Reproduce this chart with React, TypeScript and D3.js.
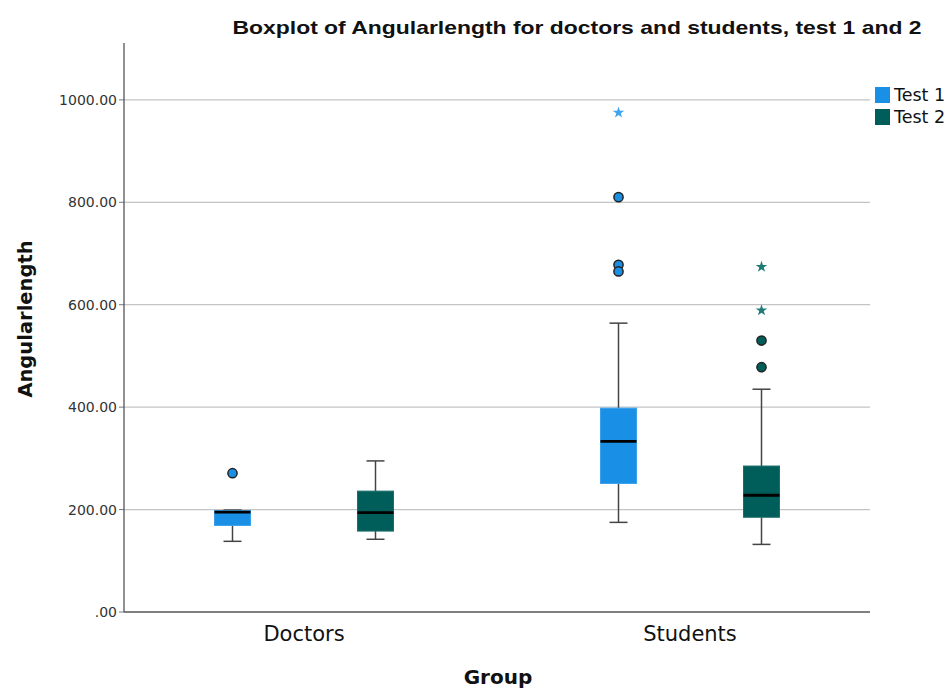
import React from "react";
import * as d3 from "d3";

const categories = ["Doctors", "Students"];
const tests = ["Test 1", "Test 2"];
const boxCategory = ["Doctors", "Doctors", "Students", "Students"];
const boxTest = ["Test 1", "Test 2", "Test 1", "Test 2"];
const whiskerLow = [138, 142, 175, 132];
const q1 = [169, 158, 251, 185];
const median = [195, 194, 333, 228];
const q3 = [198, 236, 398, 285];
const whiskerHigh = [199, 295, 564, 435];
const circleOutliers = [[271], [], [810, 678, 665], [530, 478]];
const starOutliers = [[], [], [975], [674, 589]];
const yTicks = [0, 200, 400, 600, 800, 1000];
const colors = ["#1990e6", "#005e5a"];
const strokeColors = ["#3aa0ea", "#1d6e6a"];
const starColors = ["#3ea4ee", "#1f7a76"];

export default function App() {
  const W = 952, H = 689;
  const left = 124, right = 870, top = 43, bottom = 612;
  const y = d3.scaleLinear().domain([0, 1111]).range([bottom, top]);
  const x = d3.scalePoint<string>().domain(categories).range([304, 690]);
  const sub = d3.scaleBand<string>().domain(tests).range([-143, 143]).padding(0);
  const boxW = 36;
  const capW = 18;
  const star = d3.symbol().type(d3.symbolStar).size(42)() as string;
  const fmt = (v: number) => (v === 0 ? ".00" : v.toFixed(2));

  return (
    <svg width={W} height={H} style={{ position: "absolute", left: 0, top: 0, background: "#fff" }}>
      <rect width={W} height={H} fill="#fff" />
      <text x={577} y={34} textAnchor="middle" fontFamily="Liberation Sans, Arial, sans-serif" fontWeight="bold" fontSize={19} textLength={689} lengthAdjust="spacingAndGlyphs" fill="#111">
        Boxplot of Angularlength for doctors and students, test 1 and 2
      </text>
      {yTicks.filter(t => t > 0).map(t => (
        <line key={"g" + t} x1={left} x2={right} y1={y(t)} y2={y(t)} stroke="#c4c4c4" strokeWidth={1.3} />
      ))}
      {yTicks.map(t => (
        <g key={"t" + t}>
          <line x1={left - 5} x2={left} y1={y(t)} y2={y(t)} stroke="#777" strokeWidth={1} />
          <text x={117} y={y(t)} dy="0.36em" textAnchor="end" fontFamily="DejaVu Sans, sans-serif" fontSize={14} fill="#333">{fmt(t)}</text>
        </g>
      ))}
      <line x1={left} x2={left} y1={top} y2={bottom} stroke="#555" strokeWidth={1.3} />
      <line x1={left} x2={right} y1={bottom} y2={bottom} stroke="#555" strokeWidth={1.3} />
      {median.map((m, i) => {
        const cx = (x(boxCategory[i]) as number) + (sub(boxTest[i]) as number) + sub.bandwidth() / 2;
        const ti = tests.indexOf(boxTest[i]);
        return (
          <g key={"b" + i}>
            <line x1={cx} x2={cx} y1={y(whiskerLow[i])} y2={y(q1[i])} stroke="#444" strokeWidth={1.5} />
            <line x1={cx} x2={cx} y1={y(whiskerHigh[i])} y2={y(q3[i])} stroke="#444" strokeWidth={1.5} />
            <line x1={cx - capW / 2} x2={cx + capW / 2} y1={y(whiskerLow[i])} y2={y(whiskerLow[i])} stroke="#444" strokeWidth={1.5} />
            <line x1={cx - capW / 2} x2={cx + capW / 2} y1={y(whiskerHigh[i])} y2={y(whiskerHigh[i])} stroke="#444" strokeWidth={1.5} />
            <rect x={cx - boxW / 2} y={y(q3[i])} width={boxW} height={y(q1[i]) - y(q3[i])} fill={colors[ti]} stroke={strokeColors[ti]} strokeWidth={1} />
            <line x1={cx - boxW / 2} x2={cx + boxW / 2} y1={y(m)} y2={y(m)} stroke="#000" strokeWidth={2.8} />
            {circleOutliers[i].map((v, k) => (
              <circle key={"c" + k} cx={cx} cy={y(v)} r={4.6} fill={colors[ti]} stroke="#222" strokeWidth={1.5} />
            ))}
            {starOutliers[i].map((v, k) => (
              <path key={"s" + k} d={star} transform={`translate(${cx},${y(v)})`} fill={starColors[ti]} />
            ))}
          </g>
        );
      })}
      {categories.map(c => (
        <text key={c} x={x(c)} y={641} textAnchor="middle" fontFamily="DejaVu Sans, sans-serif" fontSize={21} fill="#111">{c}</text>
      ))}
      <text x={498} y={684} textAnchor="middle" fontFamily="DejaVu Sans, sans-serif" fontWeight="bold" fontSize={20} fill="#111">Group</text>
      <text transform="translate(32,319) rotate(-90)" textAnchor="middle" fontFamily="DejaVu Sans, sans-serif" fontWeight="bold" fontSize={19.5} fill="#111">Angularlength</text>
      {tests.map((t, i) => (
        <g key={t}>
          <rect x={875} y={87 + i * 22} width={15} height={16} fill={colors[i]} />
          <text x={894} y={101 + i * 22} fontFamily="DejaVu Sans, sans-serif" fontSize={17.5} fill="#111">{t}</text>
        </g>
      ))}
    </svg>
  );
}
